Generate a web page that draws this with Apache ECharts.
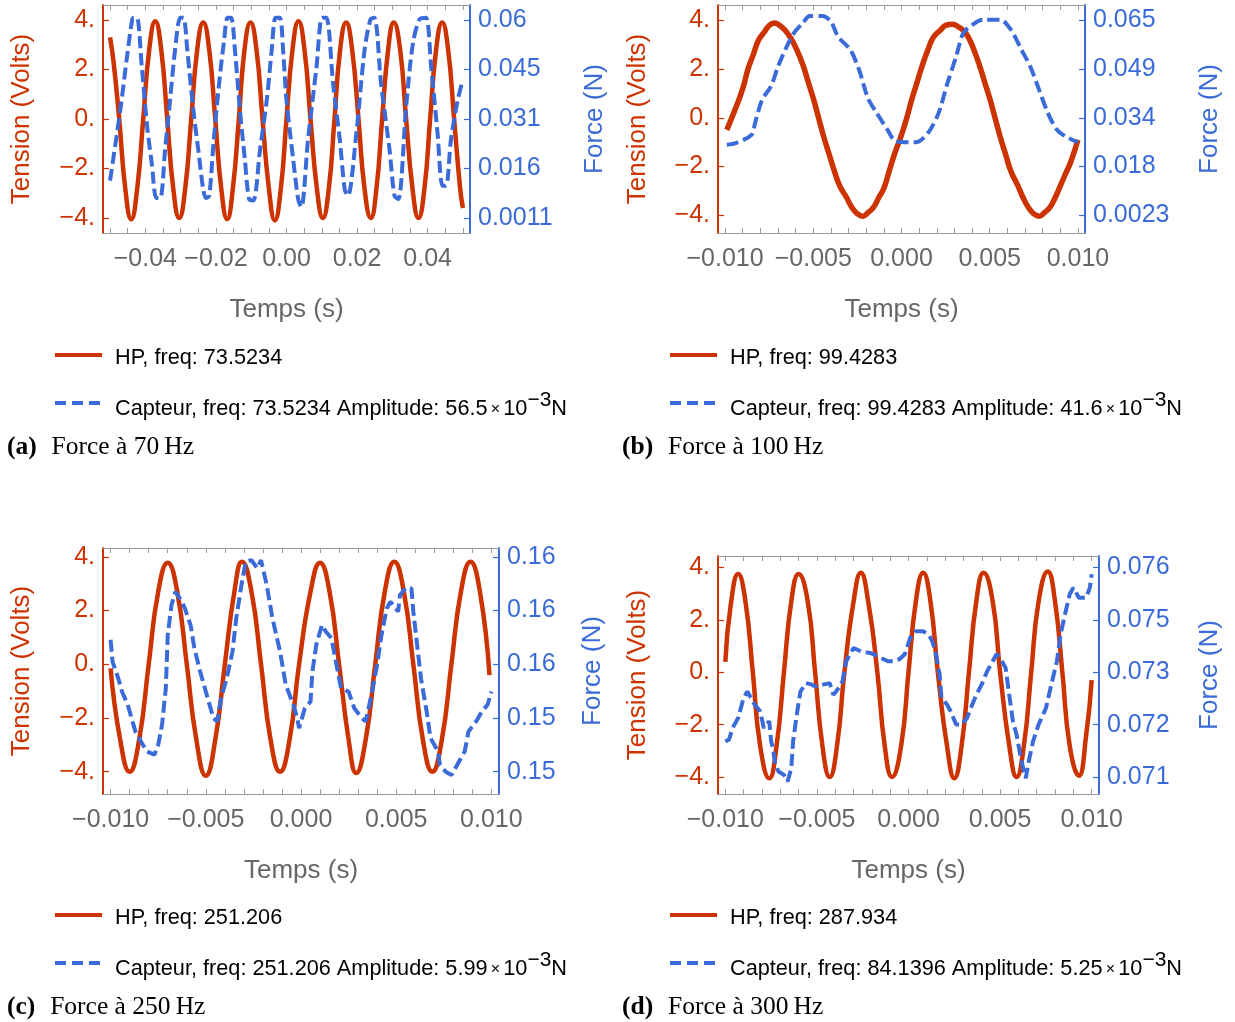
<!DOCTYPE html>
<html style="height: 100%">

<head>
	<meta charset="utf-8">
</head>

<body style="height: 100%; margin: 0; background: #ffffff">
	<div id="container" style="width: 1235px; height: 1022px;"></div>
	<script type="text/javascript" src="https://cdn.jsdelivr.net/npm/echarts@6/dist/echarts.min.js"></script>
	<script type="text/javascript">
		// ---- (a) 70 Hz : [temps (s), tension (V)] and [temps (s), force (N)]
		let hpA = [[-0.0500, 3.3], [-0.0490, 2.3], [-0.0474, 0.0], [-0.0457, -2.8], [-0.0440, -4.05], [-0.0423, -2.8], [-0.0406, 0.0], [-0.0389, 2.8], [-0.0372, 3.95], [-0.0355, 2.8], [-0.0338, 0.0], [-0.0321, -2.8], [-0.0304, -4.0], [-0.0287, -2.8], [-0.0270, 0.0], [-0.0253, 2.8], [-0.0236, 3.9], [-0.0219, 2.8], [-0.0202, 0.0], [-0.0185, -2.8], [-0.0168, -4.05], [-0.0152, -2.8], [-0.0135, 0.0], [-0.0119, 2.8], [-0.0102, 3.9], [-0.0085, 2.8], [-0.0068, 0.0], [-0.0050, -2.8], [-0.0033, -4.1], [-0.0016, -2.8], [0.0000, 0.0], [0.0017, 2.8], [0.0034, 3.95], [0.0051, 2.8], [0.0068, 0.0], [0.0086, -2.8], [0.0103, -4.0], [0.0120, -2.8], [0.0136, 0.0], [0.0152, 2.8], [0.0169, 3.9], [0.0186, 2.8], [0.0204, 0.0], [0.0221, -2.8], [0.0239, -4.0], [0.0255, -2.8], [0.0271, 0.0], [0.0288, 2.8], [0.0304, 3.9], [0.0322, 2.8], [0.0339, 0.0], [0.0357, -2.8], [0.0374, -4.0], [0.0391, -2.8], [0.0407, 0.0], [0.0424, 2.8], [0.0441, 3.9], [0.0458, 2.8], [0.0475, 0.0], [0.0492, -2.8], [0.0500, -3.6]];
		let capA = [[-0.0500, 0.0122], [-0.0471, 0.0332], [-0.0452, 0.0490], [-0.0438, 0.0597], [-0.0433, 0.0607], [-0.0424, 0.0607], [-0.0410, 0.0460], [-0.0395, 0.0284], [-0.0381, 0.0166], [-0.0369, 0.0070], [-0.0358, 0.0070], [-0.0344, 0.0214], [-0.0330, 0.0361], [-0.0316, 0.0509], [-0.0301, 0.0607], [-0.0292, 0.0607], [-0.0281, 0.0509], [-0.0264, 0.0332], [-0.0250, 0.0214], [-0.0236, 0.0096], [-0.0228, 0.0070], [-0.0219, 0.0077], [-0.0207, 0.0232], [-0.0193, 0.0391], [-0.0177, 0.0538], [-0.0167, 0.0607], [-0.0157, 0.0607], [-0.0146, 0.0509], [-0.0132, 0.0332], [-0.0118, 0.0185], [-0.0106, 0.0067], [-0.0094, 0.0063], [-0.0075, 0.0214], [-0.0056, 0.0361], [-0.0042, 0.0509], [-0.0031, 0.0607], [-0.0019, 0.0607], [-0.0009, 0.0500], [0.0000, 0.0361], [0.0019, 0.0185], [0.0033, 0.0067], [0.0042, 0.0043], [0.0061, 0.0244], [0.0085, 0.0460], [0.0101, 0.0607], [0.0113, 0.0607], [0.0132, 0.0411], [0.0151, 0.0244], [0.0165, 0.0096], [0.0174, 0.0077], [0.0198, 0.0264], [0.0221, 0.0509], [0.0238, 0.0602], [0.0249, 0.0607], [0.0268, 0.0411], [0.0292, 0.0214], [0.0306, 0.0077], [0.0317, 0.0067], [0.0339, 0.0342], [0.0358, 0.0529], [0.0377, 0.0602], [0.0395, 0.0607], [0.0410, 0.0460], [0.0428, 0.0264], [0.0442, 0.0107], [0.0452, 0.0107], [0.0466, 0.0244], [0.0485, 0.0361], [0.0499, 0.0420]];

		// ---- (b) 100 Hz
		let hpB = [[-0.0099, -0.5], [-0.0094, 0.4], [-0.0090, 1.2], [-0.0087, 2.0], [-0.0084, 2.6], [-0.0081, 3.2], [-0.0078, 3.5], [-0.0075, 3.8], [-0.0072, 3.9], [-0.0069, 3.8], [-0.0066, 3.6], [-0.0063, 3.3], [-0.0060, 2.9], [-0.0056, 2.2], [-0.0053, 1.5], [-0.0050, 0.8], [-0.0047, 0.0], [-0.0044, -0.8], [-0.0041, -1.5], [-0.0038, -2.2], [-0.0035, -2.8], [-0.0031, -3.3], [-0.0028, -3.7], [-0.0025, -3.95], [-0.0022, -4.05], [-0.0019, -3.9], [-0.0016, -3.7], [-0.0013, -3.3], [-0.0010, -2.9], [-0.0007, -2.2], [-0.0004, -1.5], [0.0000, -0.7], [0.0003, 0.0], [0.0006, 0.8], [0.0009, 1.5], [0.0012, 2.2], [0.0015, 2.8], [0.0018, 3.3], [0.0022, 3.6], [0.0025, 3.8], [0.0029, 3.85], [0.0032, 3.75], [0.0035, 3.6], [0.0038, 3.3], [0.0041, 2.8], [0.0044, 2.2], [0.0047, 1.5], [0.0050, 0.8], [0.0053, 0.0], [0.0056, -0.8], [0.0059, -1.5], [0.0062, -2.2], [0.0066, -2.8], [0.0069, -3.3], [0.0072, -3.7], [0.0075, -3.95], [0.0078, -4.05], [0.0081, -3.9], [0.0084, -3.7], [0.0087, -3.3], [0.0090, -2.8], [0.0093, -2.3], [0.0096, -1.8], [0.0100, -0.9]];
		let capB = [[-0.0099, 0.0250], [-0.0094, 0.0255], [-0.0085, 0.0282], [-0.0083, 0.0320], [-0.0079, 0.0395], [-0.0074, 0.0438], [-0.0070, 0.0502], [-0.0065, 0.0567], [-0.0061, 0.0610], [-0.0056, 0.0642], [-0.0052, 0.0665], [-0.0045, 0.0665], [-0.0040, 0.0647], [-0.0036, 0.0599], [-0.0029, 0.0556], [-0.0024, 0.0491], [-0.0019, 0.0400], [-0.0014, 0.0352], [-0.0008, 0.0299], [-0.0003, 0.0261], [0.0008, 0.0258], [0.0015, 0.0288], [0.0021, 0.0352], [0.0026, 0.0448], [0.0031, 0.0535], [0.0035, 0.0610], [0.0040, 0.0636], [0.0046, 0.0653], [0.0056, 0.0653], [0.0062, 0.0621], [0.0068, 0.0556], [0.0073, 0.0502], [0.0078, 0.0427], [0.0083, 0.0352], [0.0088, 0.0299], [0.0093, 0.0277], [0.0100, 0.0258]];

		// ---- (c) 250 Hz
		let hpC = [[-0.0100, -0.15], [-0.0095, -2.8], [-0.0090, -4.0], [-0.0085, -2.8], [-0.0080, 0.0], [-0.0075, 2.7], [-0.0070, 3.78], [-0.0065, 2.7], [-0.0060, 0.0], [-0.0055, -2.8], [-0.0050, -4.15], [-0.0045, -2.8], [-0.0040, 0.0], [-0.0035, 2.7], [-0.0031, 3.82], [-0.0026, 2.7], [-0.0021, 0.0], [-0.0016, -2.8], [-0.0011, -4.0], [-0.0006, -2.8], [-0.0001, 0.0], [0.0005, 2.7], [0.0010, 3.78], [0.0015, 2.7], [0.0020, 0.0], [0.0025, -2.8], [0.0029, -4.05], [0.0034, -2.8], [0.0039, 0.0], [0.0044, 2.7], [0.0049, 3.82], [0.0054, 2.7], [0.0059, 0.0], [0.0064, -2.8], [0.0069, -4.0], [0.0074, -2.8], [0.0079, 0.0], [0.0084, 2.7], [0.0089, 3.82], [0.0094, 2.7], [0.0099, -0.4]];
		let capC = [[-0.0100, 0.15687], [-0.0099, 0.15565], [-0.0096, 0.15472], [-0.0094, 0.15397], [-0.0091, 0.15324], [-0.0089, 0.15249], [-0.0087, 0.15175], [-0.0084, 0.15118], [-0.0081, 0.15063], [-0.0077, 0.15045], [-0.0075, 0.15100], [-0.0073, 0.15211], [-0.0071, 0.15417], [-0.0070, 0.15714], [-0.0068, 0.15882], [-0.0066, 0.15955], [-0.0063, 0.15909], [-0.0061, 0.15862], [-0.0058, 0.15769], [-0.0056, 0.15640], [-0.0053, 0.15510], [-0.0049, 0.15360], [-0.0046, 0.15249], [-0.0044, 0.15231], [-0.0042, 0.15360], [-0.0039, 0.15472], [-0.0036, 0.15621], [-0.0034, 0.15807], [-0.0031, 0.16012], [-0.0029, 0.16123], [-0.0026, 0.16132], [-0.0023, 0.16086], [-0.0021, 0.16132], [-0.0018, 0.15993], [-0.0015, 0.15807], [-0.0011, 0.15621], [-0.0008, 0.15435], [-0.0004, 0.15324], [-0.0002, 0.15249], [-0.0001, 0.15193], [0.0002, 0.15304], [0.0005, 0.15342], [0.0006, 0.15510], [0.0008, 0.15658], [0.0011, 0.15769], [0.0013, 0.15733], [0.0016, 0.15696], [0.0018, 0.15583], [0.0021, 0.15417], [0.0025, 0.15397], [0.0028, 0.15304], [0.0032, 0.15249], [0.0034, 0.15231], [0.0037, 0.15379], [0.0040, 0.15547], [0.0042, 0.15696], [0.0045, 0.15862], [0.0047, 0.15900], [0.0051, 0.15844], [0.0052, 0.15937], [0.0055, 0.15975], [0.0058, 0.15975], [0.0059, 0.15844], [0.0061, 0.15658], [0.0063, 0.15472], [0.0066, 0.15286], [0.0068, 0.15138], [0.0072, 0.15063], [0.0073, 0.14988], [0.0076, 0.14950], [0.0079, 0.14932], [0.0082, 0.14988], [0.0086, 0.15063], [0.0088, 0.15175], [0.0092, 0.15231], [0.0095, 0.15286], [0.0098, 0.15324], [0.0100, 0.15397]];

		// ---- (d) 300 Hz
		let hpD = [[-0.0100, 0.4], [-0.0097, 2.6], [-0.0093, 3.75], [-0.0089, 2.7], [-0.0085, 0.0], [-0.0081, -2.8], [-0.0076, -4.05], [-0.0072, -2.8], [-0.0068, 0.0], [-0.0064, 2.7], [-0.0060, 3.75], [-0.0055, 2.7], [-0.0051, 0.0], [-0.0047, -2.8], [-0.0043, -4.0], [-0.0039, -2.8], [-0.0035, 0.0], [-0.0030, 2.7], [-0.0026, 3.8], [-0.0022, 2.7], [-0.0017, 0.0], [-0.0013, -2.8], [-0.0009, -4.0], [-0.0004, -2.8], [0.0000, 0.0], [0.0004, 2.7], [0.0008, 3.8], [0.0012, 2.7], [0.0016, 0.0], [0.0021, -2.8], [0.0025, -4.05], [0.0029, -2.8], [0.0033, 0.0], [0.0037, 2.7], [0.0041, 3.8], [0.0046, 2.7], [0.0050, 0.0], [0.0055, -2.8], [0.0059, -4.0], [0.0063, -2.8], [0.0067, 0.0], [0.0071, 2.7], [0.0076, 3.85], [0.0080, 2.7], [0.0084, 0.0], [0.0088, -2.8], [0.0093, -3.95], [0.0097, -2.4], [0.0100, -0.3]];
		let capD = [[-0.0100, 0.07175], [-0.0098, 0.07179], [-0.0096, 0.07207], [-0.0093, 0.07231], [-0.0090, 0.07279], [-0.0088, 0.07294], [-0.0086, 0.07279], [-0.0084, 0.07263], [-0.0081, 0.07247], [-0.0079, 0.07207], [-0.0076, 0.07223], [-0.0075, 0.07175], [-0.0074, 0.07159], [-0.0073, 0.07127], [-0.0071, 0.07103], [-0.0068, 0.07095], [-0.0066, 0.07079], [-0.0064, 0.07111], [-0.0063, 0.07175], [-0.0061, 0.07239], [-0.0059, 0.07294], [-0.0056, 0.07314], [-0.0053, 0.07311], [-0.0051, 0.07306], [-0.0046, 0.07311], [-0.0043, 0.07314], [-0.0041, 0.07286], [-0.0038, 0.07303], [-0.0036, 0.07319], [-0.0034, 0.07366], [-0.0032, 0.07383], [-0.0030, 0.07398], [-0.0026, 0.07390], [-0.0021, 0.07386], [-0.0019, 0.07383], [-0.0015, 0.07374], [-0.0011, 0.07366], [-0.0008, 0.07366], [-0.0005, 0.07371], [-0.0002, 0.07383], [0.0001, 0.07423], [0.0004, 0.07438], [0.0008, 0.07438], [0.0011, 0.07430], [0.0013, 0.07414], [0.0015, 0.07383], [0.0017, 0.07334], [0.0018, 0.07279], [0.0021, 0.07263], [0.0023, 0.07247], [0.0026, 0.07215], [0.0029, 0.07215], [0.0032, 0.07231], [0.0034, 0.07254], [0.0037, 0.07286], [0.0040, 0.07311], [0.0043, 0.07343], [0.0045, 0.07358], [0.0048, 0.07383], [0.0050, 0.07374], [0.0053, 0.07351], [0.0055, 0.07286], [0.0057, 0.07223], [0.0059, 0.07191], [0.0061, 0.07143], [0.0063, 0.07103], [0.0064, 0.07087], [0.0066, 0.07135], [0.0068, 0.07175], [0.0071, 0.07215], [0.0075, 0.07254], [0.0078, 0.07311], [0.0081, 0.07366], [0.0083, 0.07430], [0.0085, 0.07470], [0.0088, 0.07526], [0.0090, 0.07542], [0.0093, 0.07518], [0.0097, 0.07518], [0.0099, 0.07542], [0.0100, 0.07574]];

		// ---- tick values / labels
		let voltTicks = [-4, -2, 0, 2, 4];
		let voltLabels = ['\u22124.', '\u22122.', '0.', '2.', '4.'];
		let forceTicksA = [0.0011, 0.0158, 0.0306, 0.0453, 0.0600];
		let forceLabelsA = ['0.0011', '0.016', '0.031', '0.045', '0.06'];
		let forceTicksB = [0.00235, 0.01803, 0.0337, 0.04938, 0.06505];
		let forceLabelsB = ['0.0023', '0.018', '0.034', '0.049', '0.065'];
		let forceTicksC = [0.1495, 0.1525, 0.1555, 0.1585, 0.1615];
		let forceLabelsC = ['0.15', '0.15', '0.16', '0.16', '0.16'];
		let forceTicksD = [0.0709, 0.07215, 0.0734, 0.07465, 0.0759];
		let forceLabelsD = ['0.071', '0.072', '0.073', '0.075', '0.076'];
		let timeTicksA = [-0.04, -0.02, 0, 0.02, 0.04];
		let timeLabelsA = ['\u22120.04', '\u22120.02', '0.00', '0.02', '0.04'];
		let timeTicksB = [-0.01, -0.005, 0, 0.005, 0.01];
		let timeLabelsB = ['\u22120.010', '\u22120.005', '0.000', '0.005', '0.010'];

		// ---- legend / caption texts
		let hpFreqs = ['73.5234', '99.4283', '251.206', '287.934'];
		let capFreqs = ['73.5234', '99.4283', '251.206', '84.1396'];
		let amplitudes = ['56.5', '41.6', '5.99', '5.25'];
		let captionTags = ['a', 'b', 'c', 'd'];
		let captionHz = ['70', '100', '250', '300'];

		const RED = '#cc3300';
		const BLUE = '#3a6bd8';
		const GRAY = '#666666';
		const FRAME = '#9a9a9a';
		const SANS = '"Liberation Sans", Arial, sans-serif';
		const SERIF = '"Liberation Serif", "Times New Roman", serif';

		// panel boxes (pixels) and plot ranges
		let panels = [
			{ hp: hpA, cap: capA, fT: forceTicksA, fL: forceLabelsA, tT: timeTicksA, tL: timeLabelsA, xr: 0.052, step: 0.005, nStep: 10,
				left: 103, top: 5, width: 367, height: 228, vmin: -4.61, vmax: 4.61, gapL: 68, gapR: 112, hpW: 4.5, capSmooth: 0.3 },
			{ hp: hpB, cap: capB, fT: forceTicksB, fL: forceLabelsB, tT: timeTicksB, tL: timeLabelsB, xr: 0.0104, step: 0.001, nStep: 10,
				left: 718, top: 5, width: 367, height: 228, vmin: -4.74, vmax: 4.64, gapL: 67, gapR: 112, hpW: 5.5, capSmooth: 0.3 },
			{ hp: hpC, cap: capC, fT: forceTicksC, fL: forceLabelsC, tT: timeTicksB, tL: timeLabelsB, xr: 0.0104, step: 0.001, nStep: 10,
				left: 103, top: 548, width: 396, height: 246, vmin: -4.83, vmax: 4.33, gapL: 68, gapR: 81, hpW: 4.5, capSmooth: false },
			{ hp: hpD, cap: capD, fT: forceTicksD, fL: forceLabelsD, tT: timeTicksB, tL: timeLabelsB, xr: 0.0104, step: 0.001, nStep: 10,
				left: 718, top: 556, width: 381, height: 238, vmin: -4.65, vmax: 4.44, gapL: 67, gapR: 98, hpW: 4.5, capSmooth: false }
		];

		function pick(vals, labels) {
			return function (v) {
				let k = 0;
				for (let i = 0; i < vals.length; i++) {
					if (Math.abs(vals[i] - v) < Math.abs(vals[k] - v)) k = i;
				}
				return labels[k];
			};
		}

		let grids = [], xAxes = [], yAxes = [], series = [];
		panels.forEach(function (p, k) {
			grids.push({ left: p.left, top: p.top, width: p.width, height: p.height, containLabel: false });

			let minorTicks = [];
			for (let i = -p.nStep; i <= p.nStep; i++) minorTicks.push(Math.round(i * p.step * 1e6) / 1e6);

			let xBase = {
				type: 'value', gridIndex: k, min: -p.xr, max: p.xr,
				axisLine: { show: true, onZero: false, lineStyle: { color: FRAME, width: 1.2 } },
				axisTick: { show: true, inside: true, length: 5, customValues: minorTicks, lineStyle: { color: FRAME, width: 1 } },
				splitLine: { show: false }
			};
			xAxes.push(Object.assign({}, xBase, {
				position: 'bottom',
				axisLabel: { show: true, customValues: p.tT, formatter: pick(p.tT, p.tL), color: GRAY, fontSize: 25, fontFamily: SANS, margin: 14 },
				name: 'Temps (s)', nameLocation: 'middle', nameGap: 64,
				nameTextStyle: { color: GRAY, fontSize: 26, fontFamily: SANS }
			}));
			xAxes.push(Object.assign({}, xBase, { position: 'top', axisLabel: { show: false } }));

			let slope = (p.fT[4] - p.fT[0]) / 8;
			let fmin = p.fT[0] + (p.vmin + 4) * slope;
			let fmax = p.fT[4] + (p.vmax - 4) * slope;

			yAxes.push({
				type: 'value', gridIndex: k, position: 'left', min: p.vmin, max: p.vmax,
				axisLine: { show: true, onZero: false, lineStyle: { color: RED, width: 2 } },
				axisTick: { show: true, inside: true, length: 6, customValues: voltTicks, lineStyle: { color: RED, width: 1.2 } },
				axisLabel: { customValues: voltTicks, formatter: pick(voltTicks, voltLabels), color: RED, fontSize: 25, fontFamily: SANS, margin: 8 },
				splitLine: { show: false },
				name: 'Tension (Volts)', nameLocation: 'middle', nameRotate: 90, nameGap: p.gapL,
				nameTextStyle: { color: RED, fontSize: 26, fontFamily: SANS }
			});
			yAxes.push({
				type: 'value', gridIndex: k, position: 'right', min: fmin, max: fmax,
				axisLine: { show: true, onZero: false, lineStyle: { color: BLUE, width: 2 } },
				axisTick: { show: true, inside: true, length: 6, customValues: p.fT, lineStyle: { color: BLUE, width: 1.2 } },
				axisLabel: { customValues: p.fT, formatter: pick(p.fT, p.fL), color: BLUE, fontSize: 25, fontFamily: SANS, margin: 8 },
				splitLine: { show: false },
				name: 'Force (N)', nameLocation: 'middle', nameRotate: 90, nameGap: p.gapR,
				nameTextStyle: { color: BLUE, fontSize: 26, fontFamily: SANS }
			});

			series.push({
				type: 'line', xAxisIndex: 2 * k, yAxisIndex: 2 * k, data: p.hp,
				smooth: 0.5, showSymbol: false, symbol: 'none', clip: true, z: 2,
				lineStyle: { color: RED, width: p.hpW }
			});
			series.push({
				type: 'line', xAxisIndex: 2 * k, yAxisIndex: 2 * k + 1, data: p.cap,
				smooth: p.capSmooth, showSymbol: false, symbol: 'none', clip: true, z: 3,
				lineStyle: { color: BLUE, width: 4, type: [12, 5], cap: 'butt' }
			});
		});

		// legends and captions
		let graphics = [];
		let legendOrigins = [[0, 0], [615, 0], [0, 560], [615, 560]];
		legendOrigins.forEach(function (o, k) {
			let x0 = o[0], y0 = o[1];
			graphics.push({ type: 'line', shape: { x1: x0 + 55, y1: y0 + 355, x2: x0 + 102, y2: y0 + 355 }, style: { stroke: RED, lineWidth: 4 } });
			graphics.push({ type: 'text', x: x0 + 115, y: y0 + 358,
				style: { text: 'HP, freq: ' + hpFreqs[k], fontSize: 21.7, fontFamily: SANS, fill: '#000', verticalAlign: 'middle' } });
			graphics.push({ type: 'line', shape: { x1: x0 + 55, y1: y0 + 403, x2: x0 + 104, y2: y0 + 403 }, style: { stroke: BLUE, lineWidth: 4, lineDash: [11, 6] } });
			graphics.push({ type: 'text', x: x0 + 115, y: y0 + 405,
				style: {
					text: '{t|Capteur, freq: ' + capFreqs[k] + ' Amplitude: ' + amplitudes[k] + '}{m|\u2009\u00d7\u2009}{t|10}{s|\u22123}{t|N}',
					verticalAlign: 'middle', fill: '#000',
					rich: {
						t: { fontSize: 21.7, fontFamily: SANS, lineHeight: 30, verticalAlign: 'bottom', fill: '#000' },
						m: { fontSize: 16, fontFamily: SANS, lineHeight: 30, verticalAlign: 'bottom', fill: '#000', padding: [0, 0, 2, 0] },
						s: { fontSize: 21, fontFamily: SANS, lineHeight: 30, verticalAlign: 'top', fill: '#000' }
					}
				} });
			graphics.push({ type: 'text', x: x0 + 7, y: y0 + 447,
				style: {
					text: '{b|(' + captionTags[k] + ')}{r|\u2002\u200aForce \u00e0 ' + captionHz[k] + '\u2009Hz}',
					verticalAlign: 'middle',
					rich: {
						b: { fontSize: 25.5, fontFamily: SERIF, fontWeight: 'bold', fill: '#000' },
						r: { fontSize: 25.5, fontFamily: SERIF, fill: '#000' }
					}
				} });
		});

		let dom = document.getElementById("container");
		let myChart = echarts.init(dom);
		let option = {
			backgroundColor: '#ffffff',
			animation: false,
			textStyle: { fontFamily: SANS },
			grid: grids,
			xAxis: xAxes,
			yAxis: yAxes,
			series: series,
			graphic: graphics
		};
		myChart.setOption(option);
	</script>
</body>
</html>
